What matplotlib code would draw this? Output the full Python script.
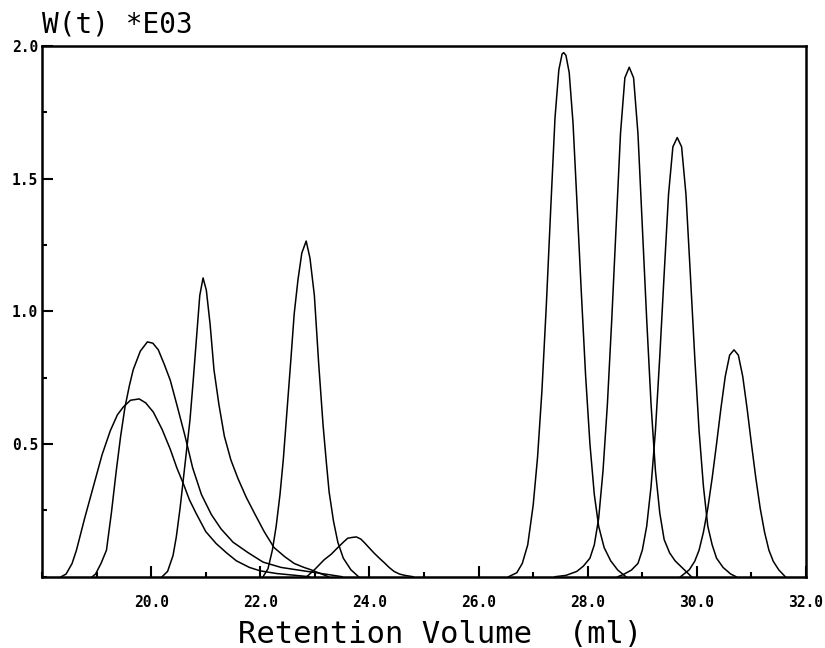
import matplotlib.pyplot as plt
from matplotlib.ticker import MultipleLocator, FixedLocator, FormatStrFormatter

# Retention volume (ml) and W(t)*E03, left to right

# broad trace, lower peak near 19.8
vol_a = [18.35, 18.44, 18.55, 18.63, 18.78, 18.94, 19.10, 19.25, 19.38, 19.49, 19.62,
         19.78, 19.90, 20.04, 20.20, 20.35, 20.47, 20.59, 20.70, 20.82, 21.00, 21.19,
         21.38, 21.56, 21.80, 22.00, 22.30, 22.60, 22.90]
w_a = [0.0, 0.01, 0.05, 0.10, 0.22, 0.34, 0.46, 0.55, 0.61, 0.64, 0.665,
       0.67, 0.655, 0.62, 0.555, 0.48, 0.41, 0.35, 0.29, 0.24, 0.17, 0.125,
       0.09, 0.06, 0.035, 0.022, 0.012, 0.006, 0.0]

# broad trace, higher peak near 19.9
vol_b = [18.92, 18.98, 19.08, 19.18, 19.27, 19.36, 19.44, 19.52, 19.60, 19.67, 19.80,
         19.93, 20.03, 20.13, 20.24, 20.35, 20.48, 20.62, 20.76, 20.92, 21.10, 21.28,
         21.50, 21.78, 22.05, 22.38, 22.70, 22.99, 23.25, 23.50]
w_b = [0.0, 0.01, 0.05, 0.10, 0.24, 0.40, 0.53, 0.64, 0.72, 0.78, 0.85,
       0.885, 0.88, 0.855, 0.80, 0.74, 0.64, 0.53, 0.41, 0.31, 0.235, 0.18,
       0.13, 0.09, 0.055, 0.035, 0.025, 0.016, 0.008, 0.0]

# peak near 20.95
vol_c = [20.20, 20.30, 20.40, 20.46, 20.53, 20.59, 20.65, 20.71, 20.77, 20.83, 20.89,
         20.95, 21.01, 21.08, 21.15, 21.24, 21.34, 21.46, 21.59, 21.74, 21.89, 22.07,
         22.25, 22.45, 22.62, 22.80, 22.93, 23.10, 23.25]
w_c = [0.0, 0.02, 0.08, 0.15, 0.26, 0.37, 0.48, 0.59, 0.74, 0.90, 1.06,
       1.126, 1.08, 0.95, 0.78, 0.65, 0.53, 0.44, 0.37, 0.30, 0.24, 0.17,
       0.11, 0.075, 0.05, 0.035, 0.026, 0.012, 0.0]

# peak near 22.85
vol_d = [22.05, 22.14, 22.22, 22.29, 22.36, 22.42, 22.49, 22.56, 22.62, 22.69, 22.76,
         22.84, 22.91, 22.99, 23.07, 23.15, 23.21, 23.26, 23.34, 23.42, 23.52, 23.66,
         23.80]
w_d = [0.0, 0.03, 0.10, 0.19, 0.31, 0.44, 0.63, 0.82, 0.99, 1.12, 1.22,
       1.265, 1.20, 1.06, 0.80, 0.57, 0.43, 0.32, 0.21, 0.13, 0.07, 0.026,
       0.0]

# small peak near 23.75
vol_e = [22.85, 22.99, 23.08, 23.17, 23.30, 23.42, 23.52, 23.60, 23.68, 23.76, 23.84,
         23.90, 23.99, 24.08, 24.18, 24.27, 24.36, 24.45, 24.55, 24.65, 24.80]
w_e = [0.0, 0.026, 0.045, 0.064, 0.085, 0.11, 0.13, 0.145, 0.148, 0.15, 0.142,
       0.13, 0.11, 0.09, 0.07, 0.053, 0.035, 0.02, 0.01, 0.005, 0.0]

# peak near 27.55
vol_f = [26.55, 26.70, 26.80, 26.90, 27.00, 27.08, 27.16, 27.24, 27.32, 27.40, 27.47,
         27.53, 27.56, 27.60, 27.66, 27.73, 27.80, 27.88, 27.96, 28.04, 28.12, 28.20,
         28.30, 28.42, 28.55, 28.70]
w_f = [0.0, 0.015, 0.05, 0.12, 0.27, 0.45, 0.70, 1.02, 1.38, 1.73, 1.91,
       1.97, 1.975, 1.965, 1.90, 1.71, 1.42, 1.08, 0.76, 0.50, 0.31, 0.19,
       0.11, 0.06, 0.025, 0.0]

# peak near 28.75
vol_g = [27.40, 27.60, 27.80, 27.92, 28.04, 28.12, 28.20, 28.28, 28.36, 28.44, 28.52,
         28.60, 28.68, 28.76, 28.84, 28.92, 29.00, 29.08, 29.16, 29.24, 29.32, 29.40,
         29.50, 29.60, 29.75, 29.90]
w_g = [0.0, 0.005, 0.02, 0.04, 0.07, 0.12, 0.22, 0.40, 0.65, 0.97, 1.32,
       1.67, 1.88, 1.92, 1.88, 1.67, 1.32, 0.97, 0.65, 0.40, 0.24, 0.14,
       0.09, 0.06, 0.03, 0.0]

# peak near 29.65
vol_h = [28.55, 28.65, 28.80, 28.92, 29.00, 29.08, 29.16, 29.24, 29.32, 29.40, 29.48,
         29.56, 29.64, 29.72, 29.80, 29.88, 29.96, 30.04, 30.12, 30.20, 30.28, 30.36,
         30.48, 30.62, 30.72]
w_h = [0.0, 0.008, 0.025, 0.05, 0.10, 0.19, 0.34, 0.55, 0.83, 1.14, 1.44,
       1.62, 1.655, 1.62, 1.44, 1.14, 0.83, 0.55, 0.34, 0.19, 0.12, 0.07,
       0.035, 0.01, 0.0]

# peak near 30.7
vol_i = [29.70, 29.86, 29.96, 30.04, 30.12, 30.20, 30.28, 30.36, 30.44, 30.52, 30.60,
         30.68, 30.76, 30.84, 30.92, 31.00, 31.08, 31.16, 31.24, 31.32, 31.40, 31.50,
         31.62]
w_i = [0.0, 0.026, 0.058, 0.10, 0.168, 0.258, 0.372, 0.50, 0.634, 0.755, 0.835,
       0.855, 0.835, 0.755, 0.634, 0.50, 0.372, 0.258, 0.168, 0.10, 0.058, 0.026,
       0.0]

traces = [(vol_a, w_a), (vol_b, w_b), (vol_c, w_c), (vol_d, w_d), (vol_e, w_e),
          (vol_f, w_f), (vol_g, w_g), (vol_h, w_h), (vol_i, w_i)]

x_major = [20.0, 22.0, 24.0, 26.0, 28.0, 30.0, 32.0]
y_major = [0.5, 1.0, 1.5, 2.0]

fig = plt.figure(figsize=(8.25, 6.48), dpi=100)
ax = fig.add_axes([0.051, 0.110, 0.926, 0.819])

for v, w in traces:
    ax.plot(v, w, color="black", lw=1.1)

ax.set_xlim(18.0, 32.0)
ax.set_ylim(0.0, 2.0)

# ticks point into the plot, labels in a heavy mono face
ax.xaxis.set_major_locator(FixedLocator(x_major))
ax.xaxis.set_minor_locator(MultipleLocator(1.0))
ax.yaxis.set_major_locator(FixedLocator(y_major))
ax.yaxis.set_minor_locator(MultipleLocator(0.25))
ax.xaxis.set_major_formatter(FormatStrFormatter("%.1f"))
ax.yaxis.set_major_formatter(FormatStrFormatter("%.1f"))

ax.tick_params(axis="x", which="major", direction="in", length=8, width=1.5, pad=13)
ax.tick_params(axis="x", which="minor", direction="in", length=3.5, width=1.5)
ax.tick_params(axis="y", which="major", direction="in", length=8, width=1.5, pad=3)
ax.tick_params(axis="y", which="minor", direction="in", length=3.5, width=1.5)
for lab in ax.get_xticklabels() + ax.get_yticklabels():
    lab.set_fontfamily("DejaVu Sans Mono")
    lab.set_fontweight("bold")
    lab.set_fontsize(10.5)

for sp in ax.spines.values():
    sp.set_linewidth(1.8)

# axis titles
fig.text(42 / 825, 1 - 33 / 648, "W(t) *E03", fontsize=20,
         family="DejaVu Sans Mono", ha="left", va="baseline")
fig.text(440 / 825, 1 - 643 / 648, "Retention Volume  (ml)", fontsize=22,
         family="DejaVu Sans Mono", ha="center", va="baseline")

fig.savefig("out.png", dpi=100)
